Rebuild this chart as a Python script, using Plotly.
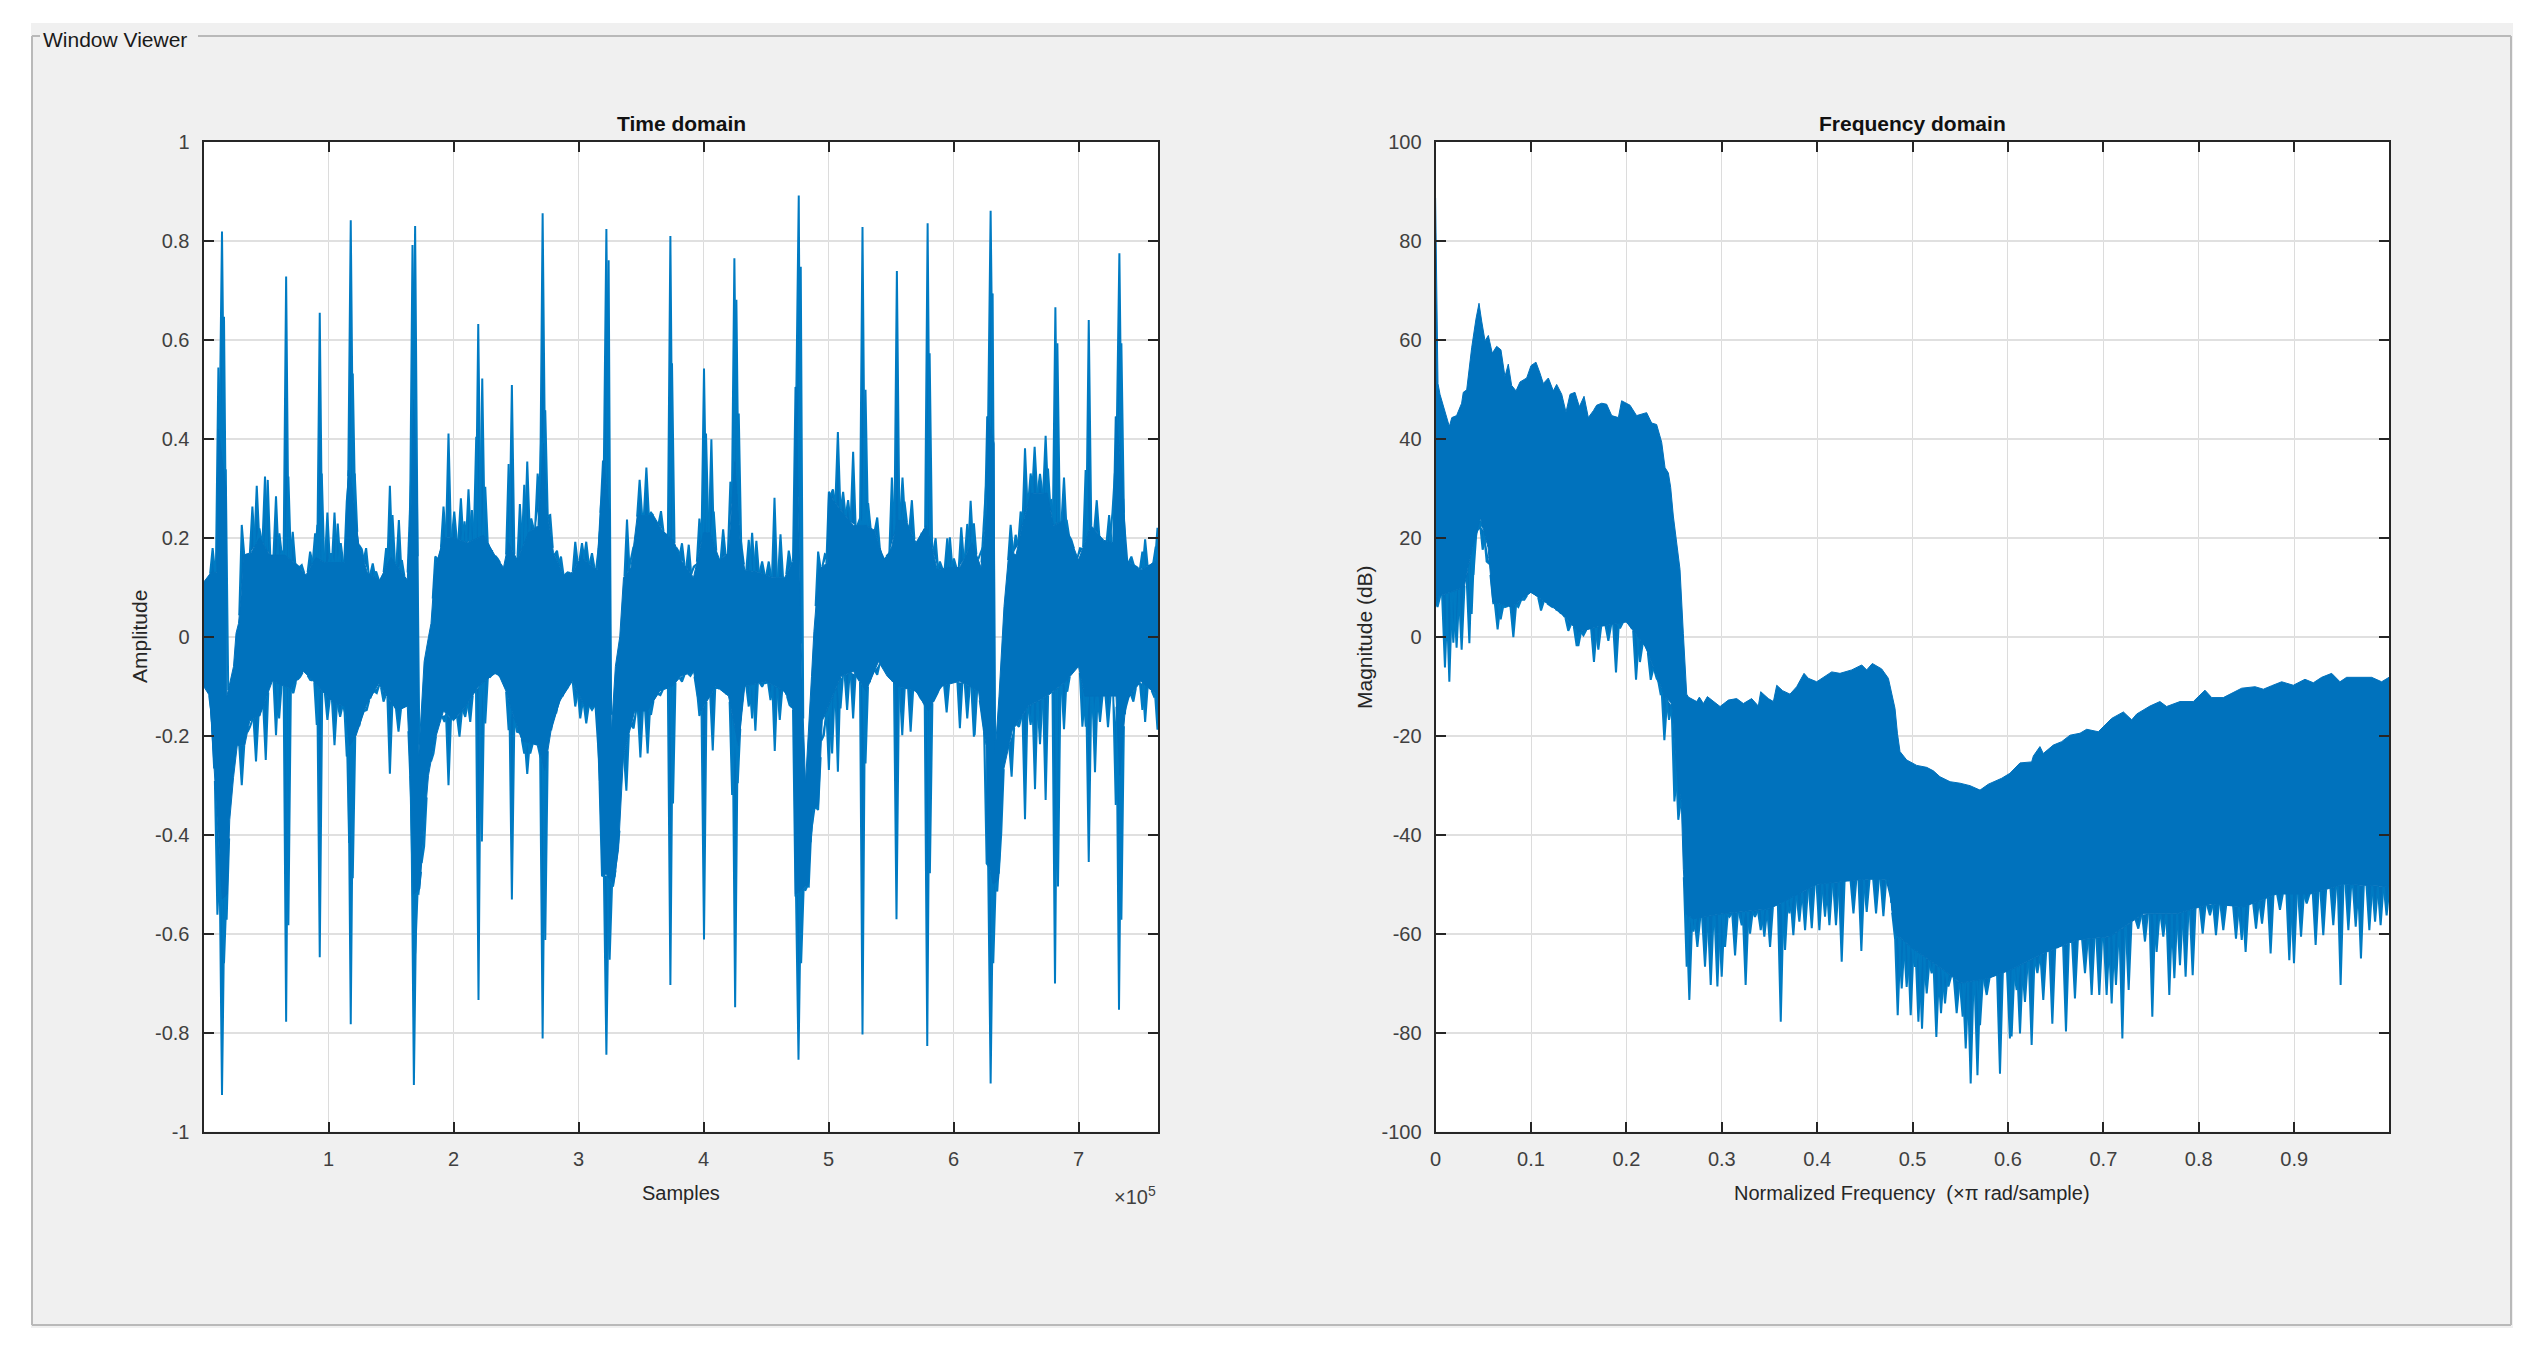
"""
Window Viewer: time and frequency domain views of a signal
Envelope values read off the screenshot by eye
"""
import numpy as np
import plotly.graph_objects as go

# Time domain, x in units of 1e5 samples
time_hi_x = [0, .06, .105, .118, .18, .187, .24, .26, .28, .30, .32, .38, .45, .53, .65, .75, .82, .90, .97, 1.13, 1.16, 1.19, 1.24, 1.31, 1.41, 1.5, 1.63, 1.66, 1.68, 1.71, 1.722,
             1.765, 1.80, 1.82, 1.85, 1.92, 2.0, 2.11, 2.24, 2.33, 2.40, 2.44, 2.51, 2.60, 2.68, 2.72, 2.75, 2.80, 2.88, 2.95, 3.02, 3.15, 3.2, 3.25, 3.262,
             3.295, 3.33, 3.36, 3.42, 3.47, 3.6, 3.67, 3.76, 3.82, 3.92, 3.95, 4.0, 4.05, 4.13, 4.2, 4.25, 4.29, 4.33, 4.45, 4.55, 4.65, 4.72, 4.74, 4.789,
             4.816, 4.842, 4.864, 4.883, 4.904, 4.922, 4.99, 5.0, 5.1, 5.2, 5.3, 5.37, 5.44, 5.50, 5.55, 5.62, 5.7, 5.78, 5.82, 5.87, 5.95, 6.05, 6.15, 6.22, 6.26, 6.27, 6.325, 6.333,
             6.364, 6.39, 6.404, 6.444, 6.5, 6.55, 6.62, 6.75, 6.8, 6.88, 6.93, 7.0, 7.05, 7.1, 7.2, 7.28, 7.3, 7.35, 7.38, 7.5, 7.636]
time_hi = [.11, .13, .13, .42, .30, -.12, -.06, .007, .027, .081, .165, .17, .20, .165, .165, .145, .125, .16, .15, .15, .337, .30, .19, .13, .115, .16, .115, .263, .479, .297, -.24,
           -.05, 0, .027, .135, .20, .20, .19, .205, .165, .14, .19, .155, .21, .225, .391, .25, .17, .125, .13, .16, .135, .357, .25, -.195,
           -.06, 0, .12, .14, .245, .245, .215, .195, .155, .12, .155, .21, .21, .155, .17, .354, .20, .135, .13, .12, .12, .155, .505, -.10,
           -.296, -.192, -.08, .01, .088, .135, .15, .29, .255, .225, .225, .215, .155, .175, .235, .235, .19, .225, .19, .135, .14, .14, .19, .14, .24, .445, .391, -.235,
           -.12, 0, .061, .175, .165, .225, .29, .29, .225, .235, .20, .155, .19, .225, .195, .19, .445, .324, .155, .135, .155]

time_lo_x = [0, .05, .105, .15, .19, .21, .24, .27, .33, .37, .45, .55, .70, .80, .88, .95, 1.05, 1.13, 1.17, 1.22, 1.3, 1.40, 1.55, 1.63, 1.66, 1.68, 1.73, 1.77, 1.80, 1.85, 1.92, 2.0, 2.1, 2.2, 2.35, 2.42, 2.48, 2.55, 2.68, 2.73, 2.78, 2.85, 2.95, 3.05, 3.15, 3.19, 3.22, 3.28, 3.32, 3.36, 3.45, 3.55, 3.65, 3.75,
             3.82, 3.92, 3.98, 4.1, 4.2, 4.28, 4.33, 4.5, 4.65, 4.72, 4.735, 4.80, 4.84, 4.87, 4.92, 4.95, 5.1, 5.2, 5.3, 5.40, 5.47, 5.55, 5.7, 5.8, 5.9, 6.05, 6.2, 6.26, 6.27, 6.32, 6.36, 6.40, 6.47, 6.6, 6.75, 6.9, 7.0, 7.05, 7.15, 7.3, 7.33, 7.38, 7.5, 7.636]
time_lo = [-.10, -.12, -.35, -.53, -.52, -.37, -.285, -.22, -.22, -.17, -.16, -.09, -.105, -.07, -.09, -.11, -.135, -.14, -.22, -.20, -.14, -.095, -.15, -.14, -.31, -.52, -.51, -.37, -.28, -.21, -.15, -.17, -.14, -.10, -.07, -.11, -.16, -.21, -.22, -.27, -.19, -.13, -.09, -.14, -.14, -.48, -.48, -.50, -.43, -.24, -.15, -.15, -.11, -.10,
           -.08, -.07, -.15, -.10, -.12, -.22, -.10, -.09, -.11, -.15, -.52, -.51, -.50, -.35, -.34, -.17, -.08, -.07, -.11, -.05, -.08, -.10, -.11, -.15, -.10, -.09, -.11, -.22, -.45, -.50, -.49, -.27, -.19, -.14, -.12, -.09, -.06, -.12, -.12, -.12, -.28, -.13, -.09, -.12]

time_peak_x = [.073, .119, .132, .148, .164, .178, .306, .332, .391, .426, .447, .492, .514, .580, .607, .634, .661, .679, .714, .746, .786, .853, .893, .911, .930, .946, .991, 1.021, 1.048, 1.074, 1.098, 1.146, 1.162, 1.178, 1.194, 1.210, 1.226, 1.266, 1.301, 1.354, 1.381, 1.461, 1.491, 1.512, 1.563, 1.587, 1.653, 1.672, 1.693, 1.707,
               1.854, 1.886, 1.920, 1.960, 2.006, 2.059, 2.088, 2.120, 2.147, 2.182, 2.198, 2.230, 2.254, 2.294, 2.353, 2.441, 2.467, 2.531, 2.566, 2.590, 2.622, 2.673, 2.700, 2.713, 2.734, 2.774, 2.828, 2.860, 2.913, 2.974, 3.028, 3.062, 3.108, 3.161, 3.196, 3.223, 3.241,
               3.388, 3.420, 3.489, 3.543, 3.580, 3.660, 3.695, 3.735, 3.748, 3.802, 3.828, 3.882, 3.922, 3.967, 4.004, 4.020, 4.063, 4.082, 4.157, 4.215, 4.247, 4.263, 4.282, 4.303, 4.362, 4.389, 4.423, 4.469, 4.522, 4.568, 4.616, 4.682, 4.736, 4.762, 4.778,
               4.917, 4.971, 5.003, 5.035, 5.075, 5.117, 5.157, 5.197, 5.251, 5.272, 5.296, 5.317, 5.390, 5.430, 5.483, 5.507, 5.547, 5.592, 5.608, 5.667, 5.726, 5.777, 5.793, 5.809, 5.857, 5.891, 5.950, 5.971, 6.003, 6.062, 6.110, 6.137, 6.163, 6.217, 6.244, 6.270, 6.297, 6.313,
               6.457, 6.497, 6.537, 6.572, 6.617, 6.649, 6.692, 6.737, 6.756, 6.783, 6.815, 6.831, 6.884, 6.905, 6.943, 7.012, 7.057, 7.082, 7.146, 7.178, 7.245, 7.271, 7.298, 7.327, 7.343, 7.378, 7.423, 7.458, 7.511, 7.533, 7.578, 7.618, 7.632]
time_peak = [.179, .544, .485, .819, .647, .337, .226, .152, .263, .305, .219, .324, .317, .284, .209, .172, .728, .324, .212, .145, .145, .172, .209, .226, .655, .330, .251, .169, .251, .229, .189, .273, .337, .842, .532, .330, .186, .177, .179, .148, .132, .179, .305, .246, .236, .155, .263, .792, .830, .297,
             .162, .138, .263, .411, .253, .280, .233, .298, .256, .404, .632, .522, .303, .175, .158, .349, .509, .268, .307, .354, .239, .330, .391, .856, .458, .246, .174, .162, .130, .192, .189, .192, .169, .179, .356, .824, .761,
             .237, .162, .317, .342, .251, .254, .202, .810, .553, .172, .189, .186, .142, .239, .542, .411, .399, .253, .217, .313, .765, .681, .451, .189, .196, .210, .194, .152, .152, .281, .207, .174, .505, .892, .748,
             .172, .167, .293, .298, .414, .293, .276, .374, .239, .828, .499, .270, .241, .148, .168, .322, .739, .322, .273, .276, .186, .216, .836, .573, .199, .152, .199, .201, .158, .221, .228, .275, .229, .169, .228, .445, .861, .694,
             .226, .206, .253, .381, .330, .384, .329, .406, .340, .276, .666, .593, .322, .236, .196, .179, .337, .640, .276, .199, .246, .249, .445, .775, .593, .148, .162, .142, .172, .197, .142, .182, .22]

time_dip_x = [.065, .111, .148, .164, .185, .306, .372, .420, .466, .498, .580, .605, .612, .661, .679, .719, .773, .853, .906, .930, .991, 1.026, 1.048, 1.093, 1.128, 1.146, 1.165, 1.178, 1.194, 1.226, 1.266, 1.306, 1.354, 1.386, 1.440, 1.491, 1.520, 1.560, 1.600, 1.659, 1.675, 1.683, 1.693, 1.720, 1.765,
              1.840, 1.928, 1.960, 2.000, 2.048, 2.094, 2.134, 2.200, 2.227, 2.254, 2.280, 2.307, 2.347, 2.441, 2.467, 2.507, 2.534, 2.566, 2.590, 2.614, 2.641, 2.694, 2.713, 2.734, 2.801, 2.841, 2.894, 2.974, 3.014, 3.062, 3.108, 3.148, 3.188, 3.223, 3.249, 3.276, 3.308,
              3.383, 3.441, 3.495, 3.522, 3.553, 3.580, 3.615, 3.655, 3.735, 3.756, 3.828, 3.895, 3.948, 3.967, 4.004, 4.074, 4.108, 4.162, 4.229, 4.253, 4.274, 4.309, 4.362, 4.389, 4.415, 4.469, 4.495, 4.536, 4.570, 4.610, 4.642, 4.688, 4.736, 4.760, 4.781, 4.816, 4.842, 4.877, 4.917,
              4.963, 4.989, 5.003, 5.029, 5.075, 5.096, 5.149, 5.197, 5.229, 5.272, 5.296, 5.350, 5.390, 5.523, 5.544, 5.590, 5.657, 5.710, 5.750, 5.790, 5.811, 5.857, 5.897, 5.945, 6.051, 6.110, 6.163, 6.169, 6.230, 6.265, 6.297, 6.318, 6.350, 6.382,
              6.465, 6.524, 6.572, 6.617, 6.652, 6.692, 6.737, 6.812, 6.836, 6.884, 6.910, 7.031, 7.058, 7.082, 7.124, 7.132, 7.172, 7.204, 7.236, 7.298, 7.324, 7.343, 7.391, 7.439, 7.511, 7.533, 7.551, 7.605, 7.632]
time_dip = [-.158, -.562, -.926, -.660, -.572, -.300, -.182, -.252, -.128, -.249, -.199, -.165, -.091, -.778, -.583, -.114, -.081, -.087, -.178, -.648, -.168, -.121, -.219, -.162, -.108, -.242, -.417, -.783, -.488, -.182, -.153, -.148, -.111, -.114, -.131, -.277, -.131, -.192, -.118, -.315, -.525, -.906, -.640, -.519, -.424,
            -.236, -.172, -.300, -.138, -.202, -.162, -.172, -.734, -.414, -.175, -.081, -.077, -.06, -.189, -.531, -.192, -.195, -.236, -.277, -.236, -.101, -.242, -.812, -.613, -.141, -.125, -.084, -.141, -.165, -.175, -.148, -.114, -.484, -.845, -.653, -.505, -.434,
            -.311, -.185, -.244, -.111, -.236, -.158, -.077, -.118, -.704, -.337, -.091, -.079, -.114, -.160, -.612, -.230, -.101, -.097, -.320, -.749, -.296, -.094, -.141, -.165, -.190, -.101, -.094, -.128, -.231, -.168, -.084, -.138, -.525, -.855, -.660, -.512, -.505, -.350, -.350,
            -.199, -.168, -.269, -.236, -.273, -.145, -.148, -.165, -.081, -.804, -.256, -.06, -.077, -.087, -.571, -.199, -.192, -.101, -.128, -.827, -.478, -.121, -.084, -.153, -.185, -.165, -.202, -.199, -.161, -.458, -.903, -.660, -.515, -.397,
            -.283, -.182, -.369, -.178, -.308, -.217, -.330, -.701, -.505, -.187, -.111, -.182, -.182, -.455, -.168, -.274, -.172, -.111, -.183, -.340, -.754, -.572, -.084, -.131, -.148, -.172, -.064, -.121, -.188]

# Frequency domain, x in units of pi rad/sample, y in dB
freq_top_x = [0, .0025, .0046, .0099, .0144, .017, .022, .0273, .029, .0326, .0354, .0378, .0423, .0455, .0483, .0518, .0553, .0594, .064, .0685, .0727, .0762, .0797, .0843, .0885, .0955, .1, .1052, .1094, .1129, .1182, .1234, .1269, .1322, .1367, .1409, .1461, .1507, .1556, .1601, .1654, .1688, .1741, .1793, .1846, .1916, .195, .2038, .2107, .2212, .2265, .2317, .237, .2405, .244, .2464, .2492, .2527, .2562, .2597, .2632,
              .265, .2737, .2765, .2807, .2849, .2912, .2982, .3069, .3156, .3226, .3313, .3383, .3408, .3488, .3541, .3576, .3638, .3715, .3785, .3862, .3907, .3995, .4152, .4239, .4362, .4467, .4519, .4578, .4676, .4746, .4781, .4816, .4841, .4868, .4938, .5043, .5148, .5218, .5287, .5393, .5497, .5602, .5707, .5794, .5934,
              .602, .6126, .6248, .6266, .6335, .637, .6475, .6563, .665, .6755, .6825, .6947, .7, .7087, .721, .7297, .735, .7489, .7593, .7663, .7803, .7943, .8065, .8135, .8257, .845, .859, .8677, .8764, .8869, .8991, .9113, .9201, .9288, .9393, .948, .955, .9672, .9812, .9917, .9994]
freq_top = [88.7, 51.2, 49, 45.7, 42.5, 44.3, 44.7, 47.2, 49.4, 49.9, 54.8, 58.4, 64.2, 67.4, 63.8, 59.8, 60.9, 57.3, 58.7, 58, 52.6, 55.1, 50.8, 49.7, 51.5, 52.3, 54.8, 55.5, 53.3, 51.2, 52.3, 49.7, 51, 49, 45.4, 49, 49.4, 46.5, 48.6, 44.3, 45.7, 46.8, 47.2, 47, 44.7, 44.3, 47.7, 46.8, 44.7, 45.3, 43.2, 42.9, 39.3, 34.2, 33.1, 30.2, 24.4, 19.4, 13.6, .6, -11.6,
            -12.2, -13.1, -12.2, -13.5, -12.1, -13.1, -14.1, -12.8, -12.5, -13.5, -12.5, -14, -11.1, -12.5, -13.1, -9.8, -10.9, -11.6, -10.1, -7.4, -8.4, -9.1, -7.1, -7.4, -6.7, -5.7, -6.7, -5.4, -6.5, -8.4, -11.4, -14.5, -19.5, -23.2, -24.9, -26, -26.4, -27.1, -28.3, -29.3, -29.6, -30.1, -31, -29.8, -28.6,
            -27.6, -25.5, -25.3, -24.1, -22.2, -23.6, -21.9, -21.2, -19.9, -19.5, -18.7, -19.2, -18.2, -16.5, -15.2, -16.8, -15.6, -14, -13.1, -14.1, -13.1, -13.1, -10.8, -12.3, -12.3, -10.4, -10.1, -10.6, -9.9, -9.1, -9.8, -8.6, -9.3, -8.2, -7.4, -9.1, -8.2, -8.2, -8.2, -9.1, -8.2]

freq_lo_x = [0, .03, .035, .043, .047, .055, .06, .08, .1, .13, .15, .17, .2, .22, .24, .2475, .2503, .2544, .2575, .2597, .2625, .27, .30, .35, .40, .45, .476, .478, .482, .50, .53, .55, .58, .602, .637, .672, .707, .742, .777, .812, .847, .882, .917, .952, .9994]
freq_lo = [8, 10, 15, 21, 24, 18, 7, 6, 9, 5, 1, 2, 3, -2, -12, -13.5, -21.5, -30, -33, -47, -56, -57, -56, -55, -50, -49, -49, -55, -60, -63, -67, -70, -69, -67.4, -64, -61.3, -60.6, -56, -56, -54, -54.6, -52, -52, -50, -50.5]

freq_dip_x = [.002, .0098, .0144, .0186, .022, .0273, .0354, .0378, .0396, .043, .0465, .0493, .0535, .0588, .0605, .065, .0682, .0727, .0762, .0815, .0867, .093, .0965, .1024, .1059, .1105, .1164, .12, .1286, .1322, .1391, .1479, .1496, .155, .1601, .166, .1706, .1741, .1811, .1891, .1933, .1968, .2027, .2101, .2142, .2205, .2255, .2317, .2359, .2398, .2447, .2503, .2544,
              .2632, .266, .2702, .2744, .2782, .2824, .2884, .2954, .2999, .3034, .308, .3139, .3209, .325, .3296, .3348, .3408, .3446, .3506, .3551, .3618, .3663, .3709, .375, .3785, .3813, .3873, .3943, .3995, .4023, .4082, .4128, .4197, .4257, .431, .438, .4463, .4519, .4571, .4617, .4634, .4694, .4746, .4788,
              .4816, .4844, .4886, .4938, .498, .5025, .5061, .5099, .5148, .52, .5249, .5298, .534, .5375, .5462, .5525, .5557, .5609, .568, .5707, .5777, .5829, .5916, .602,
              .6038, .6091, .6126, .6178, .6248, .6308, .637, .6465, .6545, .6608, .6702, .6737, .6807, .6877, .6957, .7034, .7087, .7132, .7199, .7265, .7366, .7436, .7513, .7558, .7628, .7691, .7744, .7803, .7862, .7936, .8041, .8117, .818, .8257, .8345, .839, .845, .8491, .86, .8663, .8753, .8851, .8949, .8998, .9072, .9131, .9225, .9305, .941, .9487, .9568, .9645, .97, .9788, .9848, .9906, .9969]
freq_dip = [6, -6.2, -9.1, -1.2, -2.2, -2.6, -1.3, 4.6, 12.5, 20.9, 23.4, 17.6, 15.2, 15.2, 6.8, 1.5, 3.5, 6, 7.8, -.1, 6, 7.5, 12.9, 10.8, 9, 5.3, 14.4, 6.4, 5.3, 11.1, 1.2, -1.9, -1.9, .3, 5, -5.1, -2.6, 4.3, -.8, -7.2, 1.7, 11.1, 4.3, -8.7, -5.1, 2.4, -8.7, -8.4, -11.6, -20.9, -16.8, -33.3, -37,
            -66.7, -73.4, -59.6, -62.7, -55.2, -66.7, -70.4, -70.7, -68.7, -62.7, -56.6, -64.4, -58.3, -70.4, -60, -56.6, -59.3, -60.6, -62.7, -53.9, -77.8, -63.3, -55.9, -60.3, -49.2, -57.6, -59.3, -58.9, -47.8, -59.3, -56.6, -58.3, -58.3, -65.7, -48.8, -55.9, -63.5, -55.6, -46.5, -55.9, -44.5, -56.5, -45.5, -54.6,
            -61, -76.5, -71.1, -70.8, -76.5, -66.7, -77.8, -79.2, -72.1, -68, -80.9, -76.1, -74.1, -70.7, -76.1, -76.8, -83.2, -90.3, -88.6, -78.5, -72.4, -66.7, -88.3, -81.2,
            -80.8, -71.4, -80.2, -73.8, -82.5, -68, -73.4, -78.2, -62, -79.8, -73.1, -58, -68, -72.4, -72.4, -72.4, -74.1, -70.4, -81.2, -71.4, -59, -61.6, -76.8, -63.7, -60.6, -72.4, -69, -66.4, -68.7, -68.4, -60, -56.3, -60.3, -59.3, -50.2, -61, -61.3, -63.7, -59, -58, -64, -55.2, -65.4, -66, -60.6, -53.9, -62.3, -60.3, -58.3, -70.4, -59.3, -58.6, -65, -59.3, -57.6, -58.3, -56.3]

time_xticks = [1, 2, 3, 4, 5, 6, 7]
time_yticks = [-1, -.8, -.6, -.4, -.2, 0, .2, .4, .6, .8, 1]
time_ylabels = ['-1', '-0.8', '-0.6', '-0.4', '-0.2', '0', '0.2', '0.4', '0.6', '0.8', '1']
freq_xticks = [0, .1, .2, .3, .4, .5, .6, .7, .8, .9]
freq_xlabels = ['0', '0.1', '0.2', '0.3', '0.4', '0.5', '0.6', '0.7', '0.8', '0.9']
freq_yticks = [-100, -80, -60, -40, -20, 0, 20, 40, 60, 80, 100]
freq_ylabels = ['-100', '-80', '-60', '-40', '-20', '0', '20', '40', '60', '80', '100']

# the page body keeps its 8px margin, so the figure is 16px smaller than the window
BODY = 8
W, H = 2532 - 2 * BODY, 1345 - 2 * BODY
BLUE = '#0072BD'
SPIKE_BLUE = '#007BC3'
PANEL = '#f0f0f0'
FONT = 'Liberation Sans'
TICK_GRAY = '#404040'
FRAME = '#262626'
BORDER = '#b9b9b9'
TIME_WEDGE = .02  # half width of a spike at its foot, x units
FREQ_WEDGE = .003


def px(x):
    return (x - BODY) / W


def py(y):
    return 1 - (y - BODY) / H


def wedge_segments(x, tip, env_x, env_y, half):
    """Narrow spike outlines from the body envelope out to each reading"""
    xs, ys = [], []
    for xi, ti in zip(x, tip):
        left, right = np.interp([xi - half, xi + half], env_x, env_y)
        xs += [xi - half, xi, xi + half, None]
        ys += [left, ti, right, None]
    return xs, ys


def add_signal(fig, hi_x, hi, lo_x, lo, xa, ya):
    fig.add_trace(go.Scatter(
        x=hi_x + lo_x[::-1], y=hi + lo[::-1],
        mode='lines', fill='toself', fillcolor=BLUE,
        line=dict(color=BLUE, width=1),
        hoverinfo='skip', showlegend=False, xaxis=xa, yaxis=ya))


def add_spikes(fig, x, tip, env_x, env_y, half, xa, ya):
    xs, ys = wedge_segments(x, tip, env_x, env_y, half)
    fig.add_trace(go.Scatter(
        x=xs, y=ys, mode='lines', fill='toself', fillcolor=BLUE,
        line=dict(color=SPIKE_BLUE, width=2),
        hoverinfo='skip', showlegend=False, xaxis=xa, yaxis=ya))


fig = go.Figure()
add_spikes(fig, time_peak_x, time_peak, time_hi_x, time_hi, TIME_WEDGE, 'x', 'y')
add_spikes(fig, time_dip_x, time_dip, time_lo_x, time_lo, TIME_WEDGE, 'x', 'y')
add_signal(fig, time_hi_x, time_hi, time_lo_x, time_lo, 'x', 'y')
add_spikes(fig, freq_dip_x, freq_dip, freq_lo_x, freq_lo, FREQ_WEDGE, 'x2', 'y2')
add_signal(fig, freq_top_x, freq_top, freq_lo_x, freq_lo, 'x2', 'y2')

axis_common = dict(
    showgrid=True, zeroline=False, showline=True, linecolor=FRAME, linewidth=2,
    mirror='ticks', ticks='inside', ticklen=10, tickwidth=2, tickcolor=FRAME,
    tickfont=dict(family=FONT, size=20, color=TICK_GRAY),
    tickmode='array', ticklabelstandoff=8,
)

fig.update_layout(
    width=W, height=H, margin=dict(l=0, r=0, t=0, b=0, autoexpand=False),
    paper_bgcolor=PANEL, plot_bgcolor='white', showlegend=False,
    xaxis=dict(axis_common, domain=[px(203.5), px(1158)], range=[0, 7.636],
               tickvals=time_xticks, ticktext=[str(t) for t in time_xticks],
               gridcolor='#dcdcdc', gridwidth=1, anchor='y'),
    yaxis=dict(axis_common, domain=[py(1131.5), py(142)], range=[-1, 1],
               tickvals=time_yticks, ticktext=time_ylabels,
               gridcolor='#e0e0e0', gridwidth=2, anchor='x'),
    xaxis2=dict(axis_common, domain=[px(1435.6), px(2389)], range=[0, .9994],
                tickvals=freq_xticks, ticktext=freq_xlabels,
                gridcolor='#dcdcdc', gridwidth=1, anchor='y2'),
    yaxis2=dict(axis_common, domain=[py(1131.5), py(142)], range=[-100, 100],
                tickvals=freq_yticks, ticktext=freq_ylabels,
                gridcolor='#e0e0e0', gridwidth=2, anchor='x2'),
)

# white screenshot edge around the uipanel, then its etched border broken by the title
edge = dict(type='rect', xref='paper', yref='paper', fillcolor='white', line_width=0, layer='below')
fig.add_shape(edge, x0=0, x1=px(31), y0=0, y1=1)
fig.add_shape(edge, x0=px(2513), x1=1, y0=0, y1=1)
fig.add_shape(edge, x0=0, x1=1, y0=py(23), y1=1)
fig.add_shape(edge, x0=0, x1=1, y0=0, y1=py(1328))
border = dict(type='line', xref='paper', yref='paper', line=dict(color=BORDER, width=2), layer='below')
fig.add_shape(border, x0=px(32), x1=px(32), y0=py(1325), y1=py(36))
fig.add_shape(border, x0=px(32), x1=px(40), y0=py(36), y1=py(36))
fig.add_shape(border, x0=px(198), x1=px(2511), y0=py(36), y1=py(36))
fig.add_shape(border, x0=px(2511), x1=px(2511), y0=py(1325), y1=py(36))
fig.add_shape(border, x0=px(32), x1=px(2511), y0=py(1325), y1=py(1325))


def label(text, x, y, size=20, color='#262626', angle=0, xanchor='center', bold=False):
    fig.add_annotation(
        xref='paper', yref='paper', x=px(x), y=py(y), text=f'<b>{text}</b>' if bold else text,
        showarrow=False, textangle=angle, xanchor=xanchor, yanchor='middle',
        font=dict(family=FONT, size=size, color=color))


label('Window Viewer', 41, 40, size=21, color='#1a1a1a', xanchor='left')
label('Time domain', 681, 123, size=21, color='#111111', bold=True)
label('Frequency domain', 1912, 123, size=21, color='#111111', bold=True)
label('Samples', 681, 1193)
label('Amplitude', 139, 637, size=21, angle=-90)
label('Normalized Frequency  (×π rad/sample)', 1912, 1193)
label('Magnitude (dB)', 1364, 637, size=21, angle=-90)
label('×10<sup>5</sup>', 1158, 1195, color=TICK_GRAY, xanchor='right')

fig.write_html("out.html", config=dict(displayModeBar=False))
